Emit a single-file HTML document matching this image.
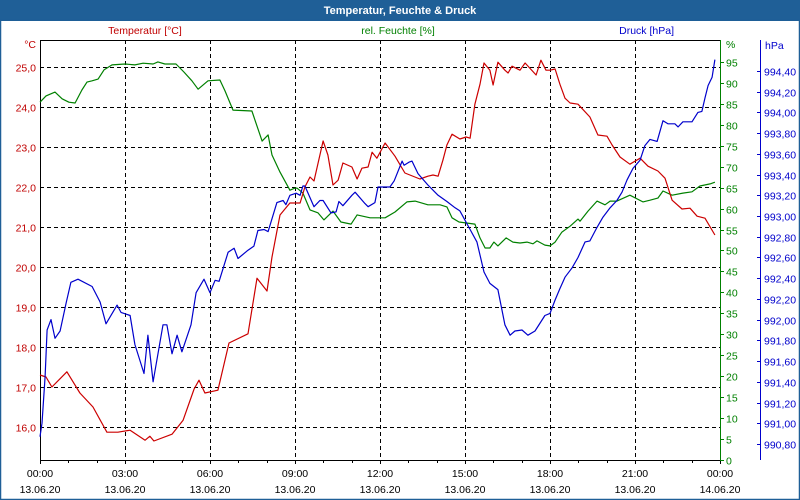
<!DOCTYPE html>
<html><head><meta charset="utf-8"><style>
body{margin:0;width:800px;height:500px;overflow:hidden;background:#fff;font-family:"Liberation Sans",sans-serif;}
svg{display:block}
</style></head><body>
<svg id="chart" width="800" height="500" font-family="Liberation Sans, sans-serif" font-size="10.5">
<rect x="0" y="0" width="800" height="500" fill="#fff"/>
<rect x="0" y="0" width="800" height="21" fill="#1f5f97"/>
<text x="400" y="14" text-anchor="middle" fill="#fff" font-weight="bold" font-size="11">Temperatur, Feuchte &amp; Druck</text>
<rect x="0.5" y="20" width="799" height="479.5" fill="none" stroke="#1f5f97" stroke-width="1.5"/>
<text x="145" y="34" text-anchor="middle" fill="#c00000">Temperatur [°C]</text>
<text x="398" y="34" text-anchor="middle" fill="#008000">rel. Feuchte [%]</text>
<text x="674" y="34" text-anchor="end" fill="#0000cc">Druck [hPa]</text>
<text x="36" y="48" text-anchor="end" fill="#c00000">°C</text>
<text x="726" y="48" fill="#008000">%</text>
<text x="765" y="49" fill="#0000cc">hPa</text>
<g id="grid"></g><g id="axes"></g><g id="series"></g>
</svg>
<script>
const tempTicks=[16,17,18,19,20,21,22,23,24,25];
const humTicks=[0,5,10,15,20,25,30,35,40,45,50,55,60,65,70,75,80,85,90,95];
const presTicks=[990.8,991.0,991.2,991.4,991.6,991.8,992.0,992.2,992.4,992.6,992.8,993.0,993.2,993.4,993.6,993.8,994.0,994.2,994.4];
const timeLabels=["00:00","03:00","06:00","09:00","12:00","15:00","18:00","21:00","00:00"];
const dateLabels=["13.06.20","13.06.20","13.06.20","13.06.20","13.06.20","13.06.20","13.06.20","13.06.20","14.06.20"];
const tempHours=[0,0.21,0.42,0.95,1.41,1.87,2.36,2.75,3.18,3.71,3.88,4.02,4.66,5.05,5.44,5.61,5.82,6.28,6.67,7.34,7.66,8.01,8.19,8.47,8.82,9.18,9.35,9.53,9.67,9.99,10.16,10.34,10.52,10.69,11.01,11.19,11.36,11.58,11.72,11.89,12.18,12.53,12.88,13.41,13.69,13.87,14.05,14.22,14.36,14.54,14.82,15.04,15.18,15.35,15.53,15.67,15.88,15.99,16.16,16.41,16.52,16.66,16.94,17.12,17.51,17.68,17.86,18.0,18.18,18.35,18.53,18.71,18.99,19.41,19.69,20.01,20.19,20.47,20.82,21.18,21.46,21.81,22.06,22.31,22.66,22.94,23.19,23.47,23.82];
const tempValues=[17.3,17.25,17.0,17.38,16.85,16.5,15.87,15.87,15.92,15.67,15.77,15.65,15.82,16.17,16.95,17.17,16.85,16.92,18.1,18.33,19.72,19.4,20.25,21.3,21.6,21.6,22.0,22.25,22.15,23.15,22.8,22.05,22.17,22.6,22.5,22.2,22.47,22.5,22.87,22.72,23.1,22.77,22.35,22.2,22.27,22.3,22.27,22.67,23.05,23.32,23.2,23.25,23.22,24.07,24.57,25.1,24.92,24.55,25.12,24.92,24.85,25.02,24.92,25.1,24.8,25.17,24.92,24.92,24.95,24.57,24.22,24.1,24.07,23.75,23.3,23.27,23.05,22.75,22.57,22.72,22.52,22.4,22.22,21.67,21.45,21.47,21.27,21.22,20.8];
const humHours=[0,0.21,0.53,0.78,1.02,1.24,1.48,1.66,1.84,2.05,2.26,2.54,3.0,3.35,3.64,3.99,4.16,4.41,4.8,5.08,5.36,5.58,5.72,5.93,6.35,6.53,6.81,7.48,7.84,8.05,8.19,8.47,8.82,9.0,9.07,9.28,9.53,9.81,10.02,10.34,10.62,10.98,11.19,11.65,12.18,12.53,12.95,13.24,13.69,14.12,14.36,14.54,14.79,15.35,15.53,15.71,15.88,16.02,16.16,16.45,16.69,16.94,17.19,17.4,17.54,17.82,18.0,18.18,18.42,18.71,18.99,19.06,19.34,19.66,19.94,20.12,20.36,20.82,21.28,21.53,21.81,21.99,22.31,22.69,23.01,23.29,23.65,23.82];
const humValues=[85.4,86.9,87.8,86.2,85.4,85.2,88.3,90.2,90.5,90.9,93.1,94.3,94.5,94.3,94.7,94.5,95.0,94.5,94.5,92.6,90.5,88.5,89.3,90.5,90.7,88.1,83.5,83.3,76.1,77.6,72.8,68.7,64.4,64.9,64.9,63.7,59.7,59.0,57.3,59.4,56.8,56.3,58.5,57.8,57.8,59.2,61.6,61.8,60.9,60.9,60.4,57.8,56.8,56.3,53.0,50.6,50.6,52.0,51.1,53.0,52.0,51.8,52.0,51.6,52.3,51.3,51.1,52.0,54.4,55.8,57.5,57.0,59.4,61.8,60.9,61.8,61.8,63.2,61.6,62.0,62.5,64.2,63.2,63.7,64.0,65.4,65.9,66.3];
const presHours=[0,0.07,0.18,0.25,0.39,0.53,0.71,0.92,1.09,1.34,1.84,2.12,2.33,2.72,2.86,3.18,3.35,3.67,3.81,3.99,4.34,4.48,4.66,4.84,5.01,5.33,5.51,5.79,6.0,6.18,6.32,6.64,6.85,6.99,7.34,7.55,7.69,7.91,8.05,8.36,8.58,8.68,8.82,9.04,9.18,9.28,9.35,9.67,9.88,9.99,10.27,10.45,10.55,10.69,11.01,11.12,11.47,11.58,11.82,11.93,12.35,12.5,12.78,12.85,13.02,13.13,13.34,13.69,14.05,14.36,14.65,14.82,15.18,15.42,15.67,15.88,16.16,16.41,16.59,16.76,17.01,17.22,17.47,17.82,18.0,18.18,18.35,18.53,18.78,18.99,19.24,19.41,19.66,19.87,20.12,20.36,20.54,20.72,20.93,21.18,21.35,21.53,21.78,21.99,22.16,22.41,22.52,22.69,23.01,23.22,23.36,23.47,23.58,23.72,23.82];
const presValues=[990.87,991.0,991.45,991.9,992.0,991.82,991.89,992.16,992.36,992.39,992.32,992.17,991.96,992.14,992.07,992.04,991.76,991.48,991.85,991.4,991.95,991.95,991.67,991.85,991.69,991.95,992.26,992.39,992.26,992.38,992.37,992.65,992.69,992.59,992.67,992.71,992.86,992.87,992.85,993.13,993.15,993.11,993.2,993.22,993.2,993.29,993.29,993.09,993.15,993.15,993.03,993.04,993.14,993.1,993.2,993.23,993.12,993.09,993.13,993.28,993.28,993.34,993.53,993.49,993.52,993.53,993.41,993.3,993.2,993.14,993.08,993.05,992.87,992.75,992.46,992.35,992.29,991.95,991.85,991.89,991.9,991.85,991.89,992.04,992.06,992.19,992.3,992.41,992.5,992.6,992.75,992.76,992.89,992.99,993.08,993.15,993.23,993.35,993.46,993.54,993.68,993.74,993.72,993.92,993.89,993.89,993.86,993.91,993.91,994.0,994.01,994.14,994.26,994.34,994.51];

const NS="http://www.w3.org/2000/svg";
const X0=40,X1=720,YT=40,YB=460;
const xScale=h=>X0+h*(X1-X0)/24;
const yTemp=t=>67+(25-t)*40;
const yHum=v=>460-v*4.19;
const yPres=p=>71+(994.4-p)*103.6;
function mk(tag,attrs,parent){const e=document.createElementNS(NS,tag);for(const k in attrs)e.setAttribute(k,attrs[k]);parent.appendChild(e);return e;}
const grid=document.getElementById('grid'),axes=document.getElementById('axes'),series=document.getElementById('series');

tempTicks.forEach(t=>{const y=Math.round(yTemp(t))+0.5;
 const g=mk('line',{x1:X0,x2:X1,y1:y,y2:y,stroke:'#000','stroke-dasharray':'4,3'},grid);
 
 
 const l=mk('text',{x:36,y:y+4,'text-anchor':'end',fill:'#c00000'},axes);l.textContent=t.toFixed(1).replace('.',',');
 
 
});
for(let h=0;h<=24;h++){const x=Math.round(xScale(h))+0.5;
 if(h%3===0&&h>0&&h<24){const g=mk('line',{x1:x,x2:x,y1:YT,y2:YB,stroke:'#000','stroke-dasharray':'4,3'},grid);
  
  }
 const tk=mk('line',{x1:x,x2:x,y1:YB,y2:YB+(h%3===0?4:3),stroke:'#000'},axes);
 
 
}
timeLabels.forEach((s,i)=>{const x=xScale(i*3);
 const a=mk('text',{x:x,y:477,'text-anchor':'middle',fill:'#000'},axes);a.textContent=s;
 
 
 const b=mk('text',{x:x,y:493,'text-anchor':'middle',fill:'#000'},axes);b.textContent=dateLabels[i];
 
 
});
humTicks.forEach(v=>{const y=Math.round(yHum(v))+0.5;
 const t=mk('line',{x1:X1,x2:X1+4,y1:y,y2:y,stroke:'#008000'},axes);
 
 
 const l=mk('text',{x:726,y:y+4,fill:'#008000'},axes);l.textContent=v;
 
 
});
presTicks.forEach(p=>{const y=Math.round(yPres(p))+0.5;
 const t=mk('line',{x1:757,x2:761,y1:y,y2:y,stroke:'#0000cc'},axes);
 
 
 const l=mk('text',{x:764,y:y+4,fill:'#0000cc'},axes);l.textContent=p.toFixed(2).replace('.',',');
 
 
});
const ax=[['left-axis',X0+0.5,YT,X0+0.5,YB+0.5,'#000'],['x-axis',X0,YB+0.5,X1,YB+0.5,'#000'],['plot-top-border',X0,YT+0.5,X1,YT+0.5,'#000'],['humidity-axis',X1+0.5,YT,X1+0.5,YB,'#008000'],['pressure-axis',760.5,YT,760.5,YB,'#0000cc']];
ax.forEach(a=>{const e=mk('line',{x1:a[1],y1:a[2],x2:a[3],y2:a[4],stroke:a[5]},axes);
 
 });
function line(hs,vs,ys,col,name){const d=hs.map((h,i)=>(i?'L':'M')+xScale(h).toFixed(1)+','+ys(vs[i]).toFixed(1)).join('');
 const p=mk('path',{d:d,fill:'none',stroke:col,'stroke-width':1.2,'stroke-linejoin':'round'},series);
 
 }
line(humHours,humValues,yHum,'#008000','humidity-line');
line(tempHours,tempValues,yTemp,'#cc0000','temperature-line');
line(presHours,presValues,yPres,'#0000cc','pressure-line');
</script>
</body></html>
